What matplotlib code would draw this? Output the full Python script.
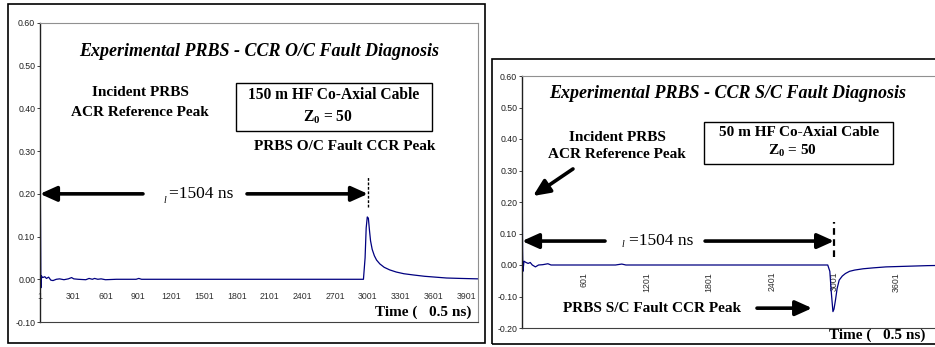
import matplotlib
matplotlib.use('Agg')
from matplotlib import pyplot as plt
from matplotlib.patches import Rectangle
from matplotlib.transforms import ScaledTranslation

plt.rcParams['mathtext.fontset'] = 'custom'
plt.rcParams['mathtext.rm'] = 'Liberation Serif:bold'
plt.rcParams['mathtext.bf'] = 'Liberation Serif:bold'
plt.rcParams['mathtext.it'] = 'Liberation Serif:italic'

# --- data: open circuit (left panel), sample index vs CCR amplitude ---
oc_samples = [1, 2, 4, 6, 9, 14, 25, 45, 60, 80, 100, 120, 150, 180, 220, 260, 290, 310,
              350, 420, 450, 480, 500, 530, 560, 600, 700, 880, 905, 930, 1200, 2000, 2960,
              2975, 2985, 2995, 3005, 3015, 3025, 3040, 3060, 3080, 3110, 3150, 3200, 3260,
              3330, 3420, 3520, 3620, 3720, 3850, 4008]
oc_values = [0.60, 0.60, 0.20, 0.12, -0.02, 0.008, 0.004, 0.006, 0.002, 0.005, -0.002, -0.003,
             0.0, 0.001, -0.001, 0.001, 0.004, 0.001, 0.0, -0.001, 0.002, 0.0, 0.002, 0.0,
             0.001, -0.001, 0.0, 0.0, 0.002, 0.0, 0.0, 0.0, 0.0, 0.05, 0.12, 0.146, 0.143,
             0.115, 0.09, 0.07, 0.055, 0.045, 0.036, 0.028, 0.022, 0.017, 0.013, 0.010,
             0.007, 0.005, 0.003, 0.002, 0.001]

# --- data: short circuit (right panel) ---
sc_samples = [1, 3, 6, 10, 20, 40, 60, 80, 100, 130, 160, 200, 250, 280, 400, 900, 960, 1000,
              2000, 2940, 2960, 2975, 2990, 3000, 3015, 3030, 3050, 3080, 3110, 3150, 3200,
              3280, 3380, 3500, 3700, 3900, 4096]
sc_values = [0.60, 0.30, 0.05, -0.02, 0.012, 0.008, 0.005, 0.008, 0.0, -0.006, 0.0, 0.001,
             0.004, 0.0, 0.0, 0.0, 0.003, 0.0, 0.0, 0.0, -0.02, -0.09, -0.148, -0.14, -0.11,
             -0.075, -0.048, -0.035, -0.027, -0.02, -0.016, -0.012, -0.009, -0.006, -0.004,
             -0.002, -0.001]

oc_xticks = [1, 301, 601, 901, 1201, 1501, 1801, 2101, 2401, 2701, 3001, 3301, 3601, 3901]
sc_xticks = [601, 1201, 1801, 2401, 3001, 3601]
oc_yticks = [-0.10, 0.00, 0.10, 0.20, 0.30, 0.40, 0.50, 0.60]
sc_yticks = [-0.20, -0.10, 0.00, 0.10, 0.20, 0.30, 0.40, 0.50, 0.60]

W, H = 935, 347
fig = plt.figure(figsize=(W / 100, H / 100), dpi=100)


def fx(x):
    return x / W


def fy(y):
    return 1 - y / H


def axes_px(x0, y0, x1, y1):
    return fig.add_axes([fx(x0), fy(y1), fx(x1 - x0), fy(y0) - fy(y1)])


serif = 'Liberation Serif'
tick_font = dict(family=['Liberation Sans Narrow', 'Liberation Sans', 'DejaVu Sans'], size=6.3)
navy = '#000080'

# outer frames
fig.add_artist(Rectangle((fx(8), fy(343)), fx(485 - 8), fy(4) - fy(343), fill=False,
                         ec='black', lw=1.2, transform=fig.transFigure))
fig.add_artist(Rectangle((fx(492), fy(344)), fx(960 - 492), fy(59) - fy(344), fill=False,
                         ec='black', lw=1.2, transform=fig.transFigure))


def style_axes(ax, yticks, ylim):
    ax.set_ylim(*ylim)
    ax.set_yticks(yticks)
    ax.set_yticklabels(['%.2f' % v for v in yticks], fontdict=tick_font)
    ax.spines['left'].set_color('#202020')
    ax.spines['left'].set_linewidth(1.0)
    ax.spines['top'].set_color('#909090')
    ax.spines['right'].set_color('#909090')
    ax.spines['bottom'].set_color('#404040')
    ax.tick_params(axis='y', direction='out', length=2.5, width=0.6, pad=1, colors='#202020')
    ax.tick_params(axis='x', length=0, colors='#303030')
    ax.patch.set_alpha(0)


# ---------------- left panel ----------------
ax1 = axes_px(40, 23, 478, 322)
ax1.plot(oc_samples, oc_values, color=navy, lw=0.9)
ax1.set_xlim(1, 4008)
style_axes(ax1, oc_yticks, (-0.10, 0.60))
ax1.set_xticks(oc_xticks)
ax1.set_xticklabels([str(v) for v in oc_xticks], fontdict=tick_font)
for lab in ax1.get_xticklabels():
    lab.set_transform(lab.get_transform() + ScaledTranslation(0, 0.35, fig.dpi_scale_trans))

ax1.text(0.5, 0.905, 'Experimental PRBS - CCR O/C Fault Diagnosis', transform=ax1.transAxes,
         ha='center', va='center', family=serif, weight='bold', style='italic', size=13)
ax1.text(fx(140), fy(92), 'Incident PRBS', transform=fig.transFigure, ha='center', va='center',
         family=serif, weight='bold', size=11)
ax1.text(fx(140), fy(112), 'ACR Reference Peak', transform=fig.transFigure, ha='center',
         va='center', family=serif, weight='bold', size=11)
fig.add_artist(Rectangle((fx(236), fy(131)), fx(432 - 236), fy(83) - fy(131), fill=False,
                         ec='black', lw=1.0, transform=fig.transFigure))
ax1.text(fx(334), fy(95), '150 m HF Co-Axial Cable', transform=fig.transFigure, ha='center',
         va='center', family=serif, weight='bold', size=11.2)
ax1.text(fx(328), fy(117), r'Z$_{\mathbf{0}}$ = 50', transform=fig.transFigure, ha='center',
         va='center', family=serif, weight='bold', size=11.2)
ax1.text(fx(345), fy(147), 'PRBS O/C Fault CCR Peak', transform=fig.transFigure, ha='center',
         va='center', family=serif, weight='bold', size=11)
ax1.text(fx(471), fy(312), 'Time (   0.5 ns)', transform=fig.transFigure, ha='right',
         va='center', family=serif, weight='bold', size=11)

arrow = dict(arrowstyle='-|>,head_length=1.0,head_width=0.45', color='black', lw=2.6,
             shrinkA=0, shrinkB=0, mutation_scale=10)
ax1.annotate('', xy=(1, 0.20), xytext=(943, 0.20), arrowprops=arrow)
ax1.annotate('', xy=(3001, 0.20), xytext=(1895, 0.20), arrowprops=arrow)
ax1.text(1144, 0.185, 'l', family=serif, style='italic', size=7, ha='center', va='center')
ax1.text(1476, 0.20, '=1504 ns', family=serif, size=12.5, ha='center', va='center')
ax1.plot([3001, 3001], [0.17, 0.24], color='black', lw=1.0, ls=(0, (2, 1.2)))

# ---------------- right panel ----------------
ax2 = axes_px(522, 76, 948, 328)
ax2.plot(sc_samples, sc_values, color=navy, lw=0.9)
ax2.set_xlim(1, 4096)
style_axes(ax2, sc_yticks, (-0.20, 0.60))
ax2.spines['right'].set_visible(False)
ax2.set_xticks(sc_xticks)
ax2.set_xticklabels([str(v) for v in sc_xticks], fontdict=tick_font, rotation=90)
for lab in ax2.get_xticklabels():
    lab.set_transform(lab.get_transform() + ScaledTranslation(0, 0.61, fig.dpi_scale_trans))
    lab.set_va('top')

ax2.text(fx(728), fy(93), 'Experimental PRBS - CCR S/C Fault Diagnosis', transform=fig.transFigure,
         ha='center', va='center', family=serif, weight='bold', style='italic', size=13)
ax2.text(fx(617), fy(137), 'Incident PRBS', transform=fig.transFigure, ha='center', va='center',
         family=serif, weight='bold', size=11)
ax2.text(fx(617), fy(154), 'ACR Reference Peak', transform=fig.transFigure, ha='center',
         va='center', family=serif, weight='bold', size=11)
fig.add_artist(Rectangle((fx(704), fy(164)), fx(893 - 704), fy(122) - fy(164), fill=False,
                         ec='black', lw=1.0, transform=fig.transFigure))
ax2.text(fx(799), fy(132), '50 m HF Co-Axial Cable', transform=fig.transFigure, ha='center',
         va='center', family=serif, weight='bold', size=11)
ax2.text(fx(792), fy(151), r'Z$_{\mathbf{0}}$ = 50', transform=fig.transFigure, ha='center',
         va='center', family=serif, weight='bold', size=11)
ax2.text(fx(652), fy(308), 'PRBS S/C Fault CCR Peak', transform=fig.transFigure, ha='center',
         va='center', family=serif, weight='bold', size=11)
ax2.text(fx(925), fy(335), 'Time (   0.5 ns)', transform=fig.transFigure, ha='right',
         va='center', family=serif, weight='bold', size=11)

ax2.annotate('', xy=(1, 0.076), xytext=(799, 0.076), arrowprops=arrow)
ax2.annotate('', xy=(3001, 0.076), xytext=(1761, 0.076), arrowprops=arrow)
ax2.annotate('', xy=(107, 0.219), xytext=(491, 0.305), arrowprops=arrow)
ax2.annotate('', xy=(2790, -0.137), xytext=(2260, -0.137), arrowprops=arrow)
ax2.text(972, 0.064, 'l', family=serif, style='italic', size=7, ha='center', va='center')
ax2.text(1338, 0.076, '=1504 ns', family=serif, size=12.5, ha='center', va='center')
ax2.plot([3001, 3001], [0.025, 0.135], color='black', lw=1.6, ls=(0, (3, 2)))

fig.savefig('out.png', dpi=100)
